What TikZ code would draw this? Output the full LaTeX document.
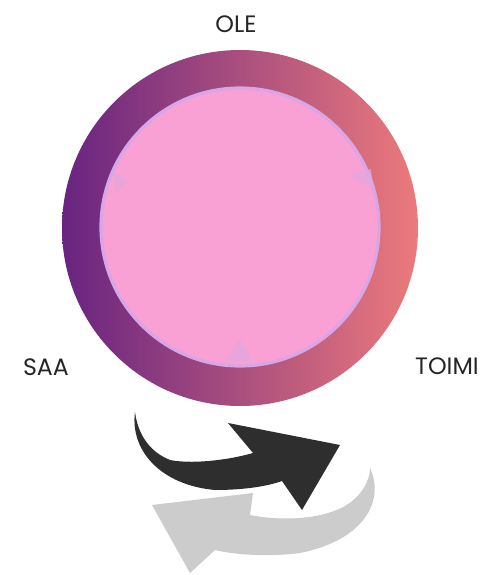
\documentclass[tikz,border=0pt]{standalone}
\usepackage{fontspec}
\setmainfont{Poppins}
\definecolor{ringleft}{RGB}{104,36,128}
\definecolor{ringmid}{RGB}{172,72,142}
\definecolor{ringright}{RGB}{236,122,124}
\definecolor{disc}{RGB}{249,160,212}
\definecolor{discedge}{RGB}{214,166,230}
\definecolor{faintc}{RGB}{226,168,222}
\begin{document}
\begin{tikzpicture}[x=0.02cm,y=-0.02cm,
  lbl/.style={font=\fontsize{13.5pt}{15pt}\selectfont, text=black!85, inner sep=0pt},
  faint/.style={fill=faintc, opacity=0.7, draw=none}]
\useasboundingbox (0,0) rectangle (498,575);
\fill[white] (0,0) rectangle (498,575);
% ring
\shade[left color=ringleft, middle color=ringmid, right color=ringright] (240,228) circle (178);
% inner disc
\fill[disc] (240,227) circle (140);
\draw[discedge, line width=1.8pt] (240,227) circle (139);
% faint arrowheads on the cycle
\fill[faint] (113,170) -- (127,181) -- (116,193) -- cycle;
\fill[faint] (348,175) -- (371,169) -- (373,188) -- cycle;
\fill[faint] (240,338) -- (252,361) -- (226,361) -- cycle;
% labels
\node[lbl] (ole) at (236,24) {OLE};
\node[lbl] (saa) at (46,367) {SAA};
\node[lbl] (toimi) at (447,366) {TOIMI};
% grey arrow
\fill[black!20] (370,468) .. controls (385,500) and (365,540) .. (300,553)
  .. controls (270,557) and (235,555) .. (215,550) -- (190,573) -- (152,505)
  -- (253,493) -- (250,515) .. controls (280,521) and (320,520) .. (345,506)
  .. controls (362,496) and (370,480) .. cycle;
% dark arrow
\fill[black!82] (135,412) .. controls (130,450) and (160,485) .. (215,490)
  .. controls (245,490) and (268,486) .. (282,481) -- (302,510) -- (340,445)
  -- (228,423) -- (253,453) .. controls (225,461) and (190,464) .. (170,460)
  .. controls (150,452) and (138,435) .. cycle;
\end{tikzpicture}
\end{document}
